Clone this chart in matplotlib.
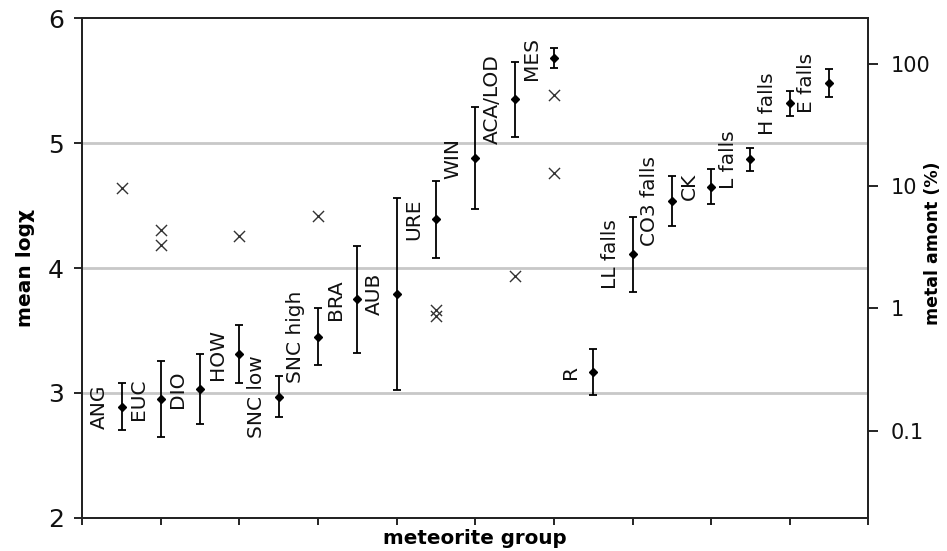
import matplotlib

matplotlib.use("Agg")
import matplotlib.pyplot as plt
import numpy as np
from matplotlib.ticker import FixedFormatter, FixedLocator, NullLocator

plt.rcParams.update({"font.family": "DejaVu Sans"})

# mean log(chi) per meteorite group, with error bar half-widths
groups = [
    "ANG", "EUC", "DIO", "HOW", "SNC low", "SNC high", "BRA", "AUB", "URE",
    "WIN", "ACA/LOD", "MES", "R", "LL falls", "CO3 falls", "CK", "L falls",
    "H falls", "E falls",
]
mean_logchi = [2.89, 2.95, 3.03, 3.31, 2.97, 3.45, 3.75, 3.79, 4.39,
               4.88, 5.35, 5.68, 3.17, 4.11, 4.54, 4.65, 4.87, 5.32, 5.48]
err_logchi = [0.19, 0.305, 0.28, 0.23, 0.165, 0.23, 0.43, 0.77, 0.31,
              0.41, 0.30, 0.08, 0.185, 0.30, 0.20, 0.14, 0.09, 0.10, 0.11]

# metal amount (%) crosses, right log axis
metal_groups = ["ANG", "EUC", "EUC", "HOW", "SNC high", "URE", "URE",
                "ACA/LOD", "MES", "MES"]
metal_pct = [9.6, 4.4, 3.3, 3.9, 5.7, 0.97, 0.86, 1.85, 56, 12.7]

metal_ticks = [0.1, 1, 10, 100]
metal_ticklabels = ["0.1", "1", "10", "100"]


def main() -> None:
    fig = plt.figure(figsize=(9.47, 5.51), dpi=100)
    ax = fig.add_axes([0.0869, 0.0604, 0.830, 0.9064])

    x = np.arange(1, len(groups) + 1)
    pos = {g: i + 1 for i, g in enumerate(groups)}

    for v in (3, 4, 5):
        ax.axhline(v, color="#c8c8c8", lw=2, zorder=0)

    ax.errorbar(
        x, mean_logchi, yerr=err_logchi, fmt="D", ms=4.5, color="black",
        ecolor="black", elinewidth=1.3, capsize=2.8, capthick=1.3, zorder=3,
    )
    for xi, yi, name in zip(x, mean_logchi, groups):
        ax.annotate(
            name, (xi, yi), xytext=(-16, 0), textcoords="offset points",
            rotation=90, ha="center", va="center", fontsize=14.5, color="#111",
        )

    ax.set_xlim(0, 20)
    ax.set_ylim(2, 6)
    ax.set_xticks(np.arange(0, 21, 2))
    ax.set_yticks([2, 3, 4, 5, 6])
    ax.tick_params(axis="x", length=5, width=1.2, labelbottom=False)
    ax.tick_params(axis="y", length=6, width=1.2, labelsize=18, pad=7, labelcolor="#111")
    for sp in ax.spines.values():
        sp.set_linewidth(1.3)
        sp.set_color("#222")

    ax.set_xlabel("meteorite group", fontsize=14.3, fontweight="bold", labelpad=3)
    ax.set_ylabel("mean log\u03c7", fontsize=14.5, fontweight="bold")
    ax.yaxis.set_label_coords(-0.060, 0.5)

    ax2 = ax.twinx()
    ax2.set_yscale("log")
    ax2.set_ylim(0.0195, 235)
    ax2.scatter([pos[g] for g in metal_groups], metal_pct, marker="x", s=64,
                color="#333", linewidths=1.0, zorder=2)
    ax2.yaxis.set_major_locator(FixedLocator(metal_ticks))
    ax2.yaxis.set_major_formatter(FixedFormatter(metal_ticklabels))
    ax2.yaxis.set_minor_locator(NullLocator())
    ax2.tick_params(axis="y", length=7, width=1.2, labelsize=15, pad=9, labelcolor="#111")
    ax2.set_ylabel("metal amont (%)", fontsize=12.5, fontweight="bold")
    ax2.yaxis.set_label_coords(1.071, 0.55)
    for sp in ax2.spines.values():
        sp.set_linewidth(1.3)
        sp.set_color("#222")

    fig.savefig("out.png", dpi=100)
    plt.close(fig)


if __name__ == "__main__":
    main()
